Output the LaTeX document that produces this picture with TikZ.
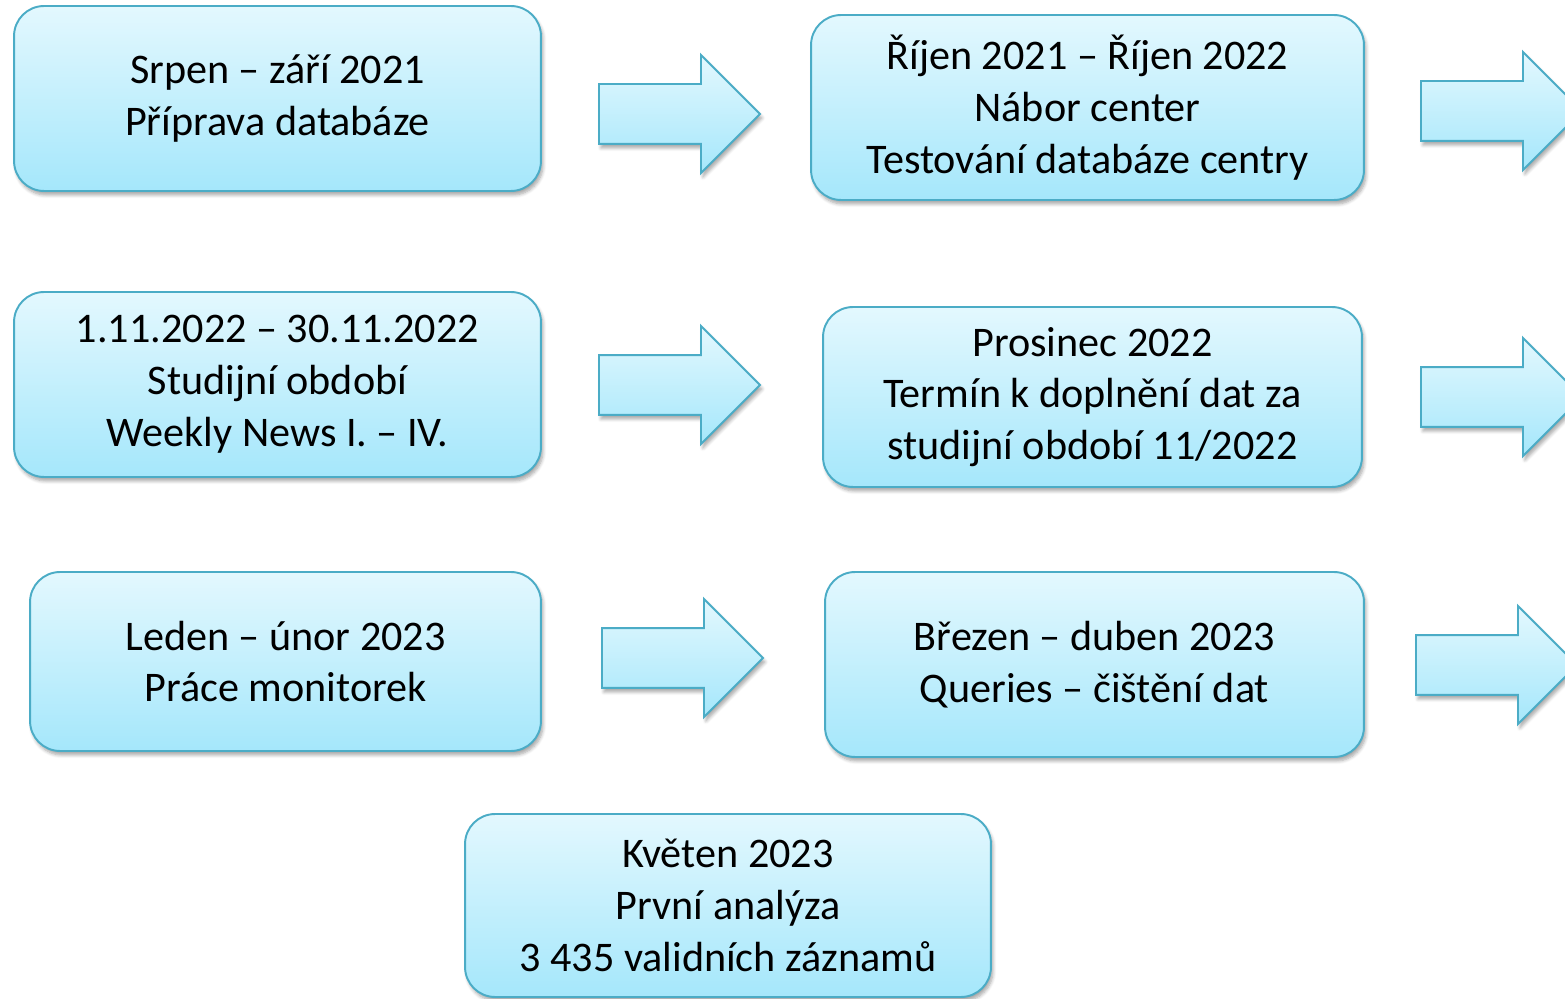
\documentclass[tikz,border=0pt]{standalone}
\usepackage{fontspec}
\setmainfont{Carlito}
\usepackage{tikz}
\usetikzlibrary{shapes.arrows}
\usetikzlibrary{shadows.blur}
\definecolor{boxtop}{HTML}{E3F8FE}
\definecolor{boxbot}{HTML}{A5E7FB}
\definecolor{boxline}{HTML}{4BACC6}
\tikzset{
  phase/.style={draw=boxline,line width=1.1pt,rounded corners=0.6cm,
    top color=boxtop,bottom color=boxbot,align=center,
    font=\fontsize{24}{29.5}\selectfont,inner sep=0pt,
    blur shadow={shadow xshift=0.04cm,shadow yshift=-0.08cm,shadow blur steps=6,shadow opacity=35}},
  blockarrow/.style={single arrow,draw=boxline,line width=1.1pt,
    top color=boxtop,bottom color=boxbot,inner xsep=0pt,inner ysep=0.58cm,
    minimum height=3.22cm,minimum width=2.32cm,single arrow head extend=0.58cm,
    blur shadow={shadow xshift=0.04cm,shadow yshift=-0.08cm,shadow blur steps=6,shadow opacity=35}}
}
\begin{document}
\begin{tikzpicture}[x=0.02cm,y=-0.02cm]
\useasboundingbox (0,0) rectangle (1565,999);

\node[phase,minimum width=10.54cm,minimum height=3.7cm] (srpen) at (277.5,98.5) {Srpen -- září 2021\\Příprava databáze};
\node[phase,minimum width=11.06cm,minimum height=3.7cm] (rijen) at (1087.5,107.5) {Říjen 2021 -- Říjen 2022\\Nábor center\\Testování databáze centry};
\node[phase,minimum width=10.54cm,minimum height=3.7cm] (studium) at (277.5,384.5) {1.11.2022 -- 30.11.2022\\Studijní období\\Weekly News I. -- IV.};
\node[phase,minimum width=10.78cm,minimum height=3.6cm] (prosinec) at (1092.5,397) {Prosinec 2022\\Termín k doplnění dat za\\studijní období 11/2022};
\node[phase,minimum width=10.22cm,minimum height=3.58cm] (leden) at (285.5,661.5) {Leden -- únor 2023\\Práce monitorek};
\node[phase,minimum width=10.78cm,minimum height=3.7cm] (brezen) at (1094.5,664.5) {Březen -- duben 2023\\Queries -- čištění dat};
\node[phase,minimum width=10.52cm,minimum height=3.66cm] (kveten) at (728,905.5) {Květen 2023\\První analýza\\3 435 validních záznamů};

\node[blockarrow] (sipka1) at (664.5,114) {};
\node[blockarrow] (sipka2) at (1486.5,111) {};
\node[blockarrow] (sipka3) at (664.5,385) {};
\node[blockarrow] (sipka4) at (1486.5,397) {};
\node[blockarrow] (sipka5) at (667.5,658) {};
\node[blockarrow] (sipka6) at (1481.5,665) {};
\end{tikzpicture}
\end{document}
